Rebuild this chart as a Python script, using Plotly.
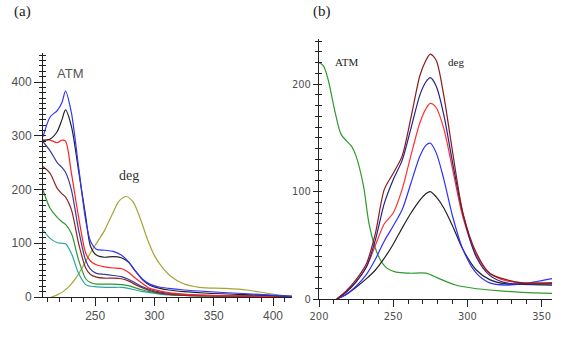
import plotly.graph_objects as go

# ---------------- Panel (a) data ----------------
xa = [206, 212, 218, 222, 225, 230, 236, 242, 246, 251, 258, 265, 272, 278, 284, 290, 296, 303, 312, 325, 345, 370, 395, 416]
a_blue   = [298, 335, 347, 362, 383, 342, 242, 143, 104, 89, 87, 85, 78, 66, 48, 33, 24, 19, 16, 13, 10, 7, 4, 1]
a_black  = [292, 294, 308, 330, 348, 317, 235, 150, 95, 78, 74, 75, 73, 65, 48, 32, 22, 17, 13, 10, 7, 5, 3, 1]
a_red    = [291, 292, 287, 292, 290, 230, 149, 82, 67, 60, 56, 54, 53, 46, 35, 25, 16, 12, 8, 5, 3, 2, 1, 0]
a_slate  = [289, 272, 250, 241, 232, 199, 125, 68, 52, 44, 42, 40, 38, 33, 26, 19, 14, 10, 7, 5, 3, 2, 1, 0]
a_maroon = [243, 230, 202, 192, 186, 162, 100, 54, 42, 37, 35, 35, 34, 30, 23, 17, 12, 8, 5, 3, 2, 1, 0, 0]
a_green  = [199, 165, 148, 140, 135, 118, 69, 34, 27, 24, 24, 24, 23, 21, 17, 13, 10, 7, 5, 3, 2, 1, 1, 0]
a_teal   = [125, 109, 101, 100, 99, 81, 44, 23, 20, 19, 18, 18, 18, 16, 13, 10, 8, 6, 4, 3, 2, 1, 0, 0]
xa_deg = [213, 218, 223, 229, 234, 240, 246, 252, 258, 264, 270, 276, 282, 288, 294, 300, 306, 314, 324, 338, 360, 378, 395, 411, 416]
a_deg  = [0, 4, 10, 22, 36, 58, 82, 103, 124, 152, 178, 187, 177, 146, 108, 77, 57, 38, 25, 18, 16, 13, 7, 2, 1]

# ---------------- Panel (b) data ----------------
xb_atm = [200, 203, 206, 211, 215, 222, 225, 230, 234, 240, 245.5, 252, 261, 272, 281, 292, 304, 315, 337, 357]
b_atm  = [220, 217, 205, 173, 153, 142, 133, 105, 68, 40, 29, 25, 24, 24, 19, 13, 10, 8.4, 6.2, 5.3]
xb = [212, 218, 225, 232, 238, 244, 250, 256, 262, 268, 272, 275, 279, 284, 290, 297, 306, 315, 326, 337, 357]
b_maroon = [0, 7, 18, 33, 61, 102, 117, 133, 169, 208, 222, 228, 222, 190, 137, 80, 43, 24, 18, 15, 15]
b_navy   = [0, 6, 16, 30, 55, 89, 111, 129, 159, 190, 202, 206, 198, 172, 127, 79, 39, 22, 15, 14, 14]
b_red    = [0, 6, 16, 30, 50, 70, 80, 102, 134, 164, 177, 182, 178, 159, 121, 76, 41, 24, 17, 15, 15]
b_blue   = [0, 4, 12, 23, 37, 54, 68, 83, 108, 133, 143, 145, 136, 112, 77, 46, 24, 15, 13, 14, 19]
b_black  = [0, 4, 11, 19, 27, 38, 51, 66, 80, 92, 98, 100, 95, 85, 68, 46, 27, 18, 14, 13.5, 13]

fig = go.Figure()

def add(x, y, color, xa_name, ya_name):
    fig.add_trace(go.Scatter(x=x, y=y, mode="lines", xaxis=xa_name, yaxis=ya_name,
                             line=dict(color=color, width=1.2, shape="spline", smoothing=0.8),
                             showlegend=False, hoverinfo="skip"))

# panel a
add(xa_deg, a_deg, "#a5a532", "x", "y")
add(xa, a_teal, "#2aa5a5", "x", "y")
add(xa, a_green, "#2e962e", "x", "y")
add(xa, a_maroon, "#8b2525", "x", "y")
add(xa, a_slate, "#3a3a9a", "x", "y")
add(xa, a_red, "#ff2222", "x", "y")
add(xa, a_black, "#222222", "x", "y")
add(xa, a_blue, "#3333ff", "x", "y")

# panel b
add(xb_atm, b_atm, "#2e9a2e", "x2", "y2")
add(xb, b_black, "#222222", "x2", "y2")
add(xb, b_blue, "#2f2fff", "x2", "y2")
add(xb, b_red, "#ff3030", "x2", "y2")
add(xb, b_navy, "#22228b", "x2", "y2")
add(xb, b_maroon, "#8b1a1a", "x2", "y2")

# dummy traces for overlay axes (inside minor ticks)
fig.add_trace(go.Scatter(x=[None], y=[None], xaxis="x", yaxis="y3", showlegend=False))
fig.add_trace(go.Scatter(x=[None], y=[None], xaxis="x2", yaxis="y4", showlegend=False))

W, H = 565, 338
xa_dom = [43 / W, 292 / W]
ya_dom = [(H - 297) / H, (H - 53) / H]
xb_dom = [319 / W, 552 / W]
yb_dom = [(H - 299) / H, (H - 39) / H]

axc = "#222222"
fa = dict(family="Liberation Sans, Arial, sans-serif", size=12, color="#505050")
narrow = "Liberation Sans Narrow, DejaVu Sans Condensed, Arial Narrow, Roboto Condensed, sans-serif"
fb_y = dict(family=narrow, size=11, color="#505050")
fb_x = dict(family=narrow, size=11, color="#505050")

fig.update_layout(
    width=W, height=H, margin=dict(l=0, r=0, t=0, b=0, autoexpand=False),
    paper_bgcolor="white", plot_bgcolor="white", showlegend=False,
    xaxis=dict(domain=xa_dom, anchor="y", range=[206, 416], tickvals=[250, 300, 350, 400], automargin=False,
               showgrid=False, zeroline=False, showline=True, linecolor=axc, linewidth=1,
               ticks="outside", ticklen=8, tickcolor=axc, tickfont=fa,
               minor=dict(dtick=10, tick0=200, ticks="outside", ticklen=4, tickcolor=axc, showgrid=False)),
    yaxis=dict(domain=ya_dom, anchor="x", range=[0, 454], tickvals=[0, 100, 200, 300, 400], automargin=False,
               showgrid=False, zeroline=False, showline=True, linecolor=axc, linewidth=1,
               ticks="outside", ticklen=8, tickcolor=axc, tickfont=fa,
               minor=dict(dtick=10, tick0=0, ticks="outside", ticklen=3, tickcolor=axc, showgrid=False)),
    yaxis3=dict(overlaying="y", anchor="x", range=[0, 454], showgrid=False, zeroline=False, automargin=False,
                showline=False, showticklabels=False, ticks="inside", ticklen=3, tickcolor=axc,
                tickvals=[0, 100, 200, 300, 400],
                minor=dict(dtick=10, tick0=0, ticks="inside", ticklen=3, tickcolor=axc, showgrid=False)),
    xaxis2=dict(domain=xb_dom, anchor="y2", range=[200, 357], tickvals=[200, 250, 300, 350], automargin=False,
                showgrid=False, zeroline=False, showline=True, linecolor=axc, linewidth=1,
                ticks="outside", ticklen=7, tickcolor=axc, tickfont=fb_x,
                minor=dict(dtick=10, tick0=200, ticks="outside", ticklen=4, tickcolor=axc, showgrid=False)),
    yaxis2=dict(domain=yb_dom, anchor="x2", range=[0, 242], tickvals=[0, 100, 200], automargin=False,
                showgrid=False, zeroline=False, showline=True, linecolor=axc, linewidth=1,
                ticks="outside", ticklen=5, tickcolor=axc, tickfont=fb_y,
                minor=dict(dtick=10, tick0=0, ticks="outside", ticklen=3, tickcolor=axc, showgrid=False)),
    yaxis4=dict(overlaying="y2", anchor="x2", range=[0, 242], showgrid=False, zeroline=False, automargin=False,
                showline=False, showticklabels=False, ticks="inside", ticklen=3, tickcolor=axc,
                tickvals=[0, 100, 200],
                minor=dict(dtick=10, tick0=0, ticks="inside", ticklen=3, tickcolor=axc, showgrid=False)),
)

serif = "Liberation Serif, Times New Roman, serif"
def note(text, px, py, family, size, color="#222222"):
    fig.add_annotation(text=text, x=px / W, y=1 - py / H, xref="paper", yref="paper",
                       showarrow=False, xanchor="center", yanchor="middle",
                       font=dict(family=family, size=size, color=color))

note("(a)", 22, 11, serif, 15)
note("(b)", 322, 11, serif, 15)
note("ATM", 70, 73, "Liberation Sans, Arial, sans-serif", 13, "#555555")
note("deg", 128.5, 175, serif, 14, "#333333")
note("ATM", 346, 62, serif, 11)
note("deg", 456, 62, serif, 11)

fig.write_html("out.html", config={"displayModeBar": False},
               post_script="document.body.style.margin='0';document.body.style.padding='0';")
